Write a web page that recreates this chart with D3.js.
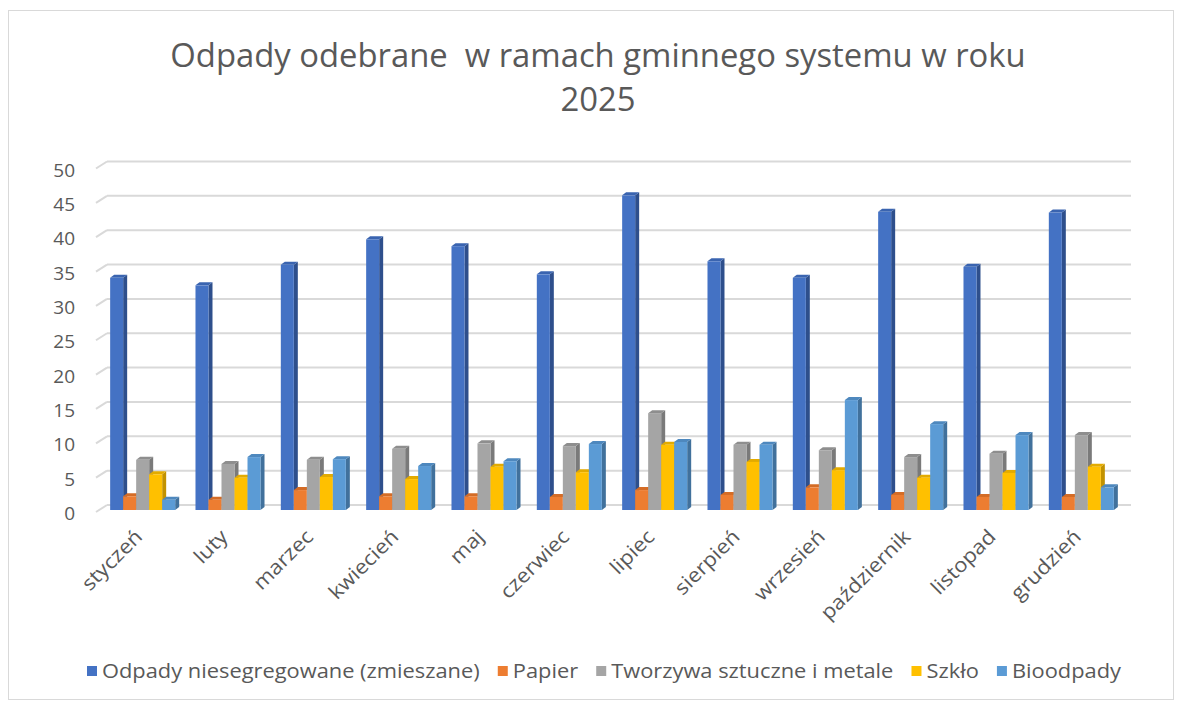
<!DOCTYPE html>
<html><head><meta charset="utf-8">
<script src="https://cdn.jsdelivr.net/npm/d3@7"></script>
<style>body{margin:0;background:#fff}svg{display:block}text{font-family:"Open Sans",sans-serif;fill:#595959}</style>
</head><body><svg id="c" width="1182" height="704"></svg>
<script>
const months = ["styczeń","luty","marzec","kwiecień","maj","czerwiec","lipiec","sierpień","wrzesień","październik","listopad","grudzień"];
const seriesNames = ["Odpady niesegregowane (zmieszane)","Papier","Tworzywa sztuczne i metale","Szkło","Bioodpady"];
const mixed   = [33.8,32.7,35.7,39.4,38.4,34.3,45.8,36.2,33.8,43.4,35.4,43.3];
const paper   = [2.0,1.5,2.9,2.0,2.0,1.9,2.9,2.2,3.3,2.2,1.9,1.9];
const plastic = [7.3,6.7,7.3,8.9,9.7,9.3,14.1,9.5,8.7,7.7,8.2,10.9];
const glass   = [5.2,4.7,4.8,4.5,6.3,5.5,9.5,7.0,5.8,4.7,5.4,6.3];
const bio     = [1.5,7.7,7.4,6.4,7.1,9.6,9.9,9.5,16.0,12.5,10.9,3.3];
const yTicks  = [0,5,10,15,20,25,30,35,40,45,50];
const titleLines = ["Odpady odebrane  w ramach gminnego systemu w roku","2025"];

const seriesData = [mixed,paper,plastic,glass,bio];
const colors = [
  {front:"#4472C4", top:"#3A64B0", side:"#2E4F8C"},
  {front:"#ED7D31", top:"#D46C26", side:"#B35A1E"},
  {front:"#A5A5A5", top:"#8E8E8E", side:"#7A7A7A"},
  {front:"#FFC000", top:"#E3AB00", side:"#C29200"},
  {front:"#5B9BD5", top:"#4E88BE", side:"#41719C"}
];

const svg = d3.select("#c");
svg.append("rect").attr("x",8.5).attr("y",10.5).attr("width",1165).attr("height",689)
  .attr("fill","#fff").attr("stroke","#D9D9D9");

function stretch(t, f){
  const L = t.node().getComputedTextLength();
  t.attr("textLength", L*f).attr("lengthAdjust","spacingAndGlyphs");
  return L*f;
}

// title
titleLines.forEach((s,i)=>{
  const t = svg.append("text").attr("x",598).attr("y",67+i*44).attr("text-anchor","middle")
    .style("font-size","32px").style("white-space","pre").text(s);
  stretch(t, 1.025);
});

const x0 = 100, x1 = 1124;
const dxW = 7, dyW = -5;   // back wall offset
const y = d3.scaleLinear().domain([0,50]).range([510,166.5]);
const xBand = d3.scaleBand().domain(months).range([x0,x1]).paddingInner(0.238).paddingOuter(0.119);
const xSer = d3.scaleBand().domain(d3.range(seriesNames.length)).range([0,xBand.bandwidth()]);

// gridlines
const grid = svg.append("g");
yTicks.forEach(v=>{
  const yy = y(v);
  grid.append("line").attr("x1",x0+dxW).attr("x2",x1+dxW).attr("y1",yy+dyW).attr("y2",yy+dyW)
    .attr("stroke","#D9D9D9").attr("stroke-width",2);
  grid.append("line").attr("x1",x0-4).attr("y1",yy+2).attr("x2",x0+dxW).attr("y2",yy+dyW)
    .attr("stroke","#D9D9D9").attr("stroke-width",2);
  svg.append("text").attr("x",75).attr("y",yy+10).attr("text-anchor","end")
    .style("font-size","19px").text(v);
});

// bars
const d = 4, dd = 3;
const bars = svg.append("g");
months.forEach((m,i)=>{
  seriesData.forEach((s,k)=>{
    const v = s[i];
    const bx = xBand(m)+xSer(k), w = xSer.bandwidth();
    const top = y(v), base = y(0);
    const c = colors[k];
    const g = bars.append("g");
    g.append("polygon").attr("points",[[bx+w,top],[bx+w+d,top-dd],[bx+w+d,base-dd],[bx+w,base]].join(" ")).attr("fill",c.side);
    g.append("polygon").attr("points",[[bx,top],[bx+d,top-dd],[bx+w+d,top-dd],[bx+w,top]].join(" ")).attr("fill",c.top);
    g.append("rect").attr("x",bx).attr("y",top).attr("width",w).attr("height",base-top).attr("fill",c.front);
  });
});

// x labels
months.forEach(m=>{
  const cx = xBand(m)+xBand.bandwidth()/2;
  const t = svg.append("text").attr("transform",`translate(${cx+1},${538}) rotate(-45)`)
    .attr("text-anchor","end").style("font-size","20px").text(m);
  stretch(t, 1.1);
});

// legend
const leg = svg.append("g");
const lStart = 87, lEnd = 1121, sq = 10, sqGap = 5;
const items = seriesNames.map((n,k)=>{
  const g = leg.append("g");
  g.append("rect").attr("width",sq).attr("height",sq).attr("y",666).attr("fill",colors[k].front);
  const t = g.append("text").attr("x",sq+sqGap).attr("y",678).style("font-size","19.5px").text(n);
  const L = stretch(t, 1.12);
  return {g, w: sq+sqGap+L};
});
const totalW = d3.sum(items, d=>d.w);
const gap = (lEnd-lStart-totalW)/(items.length-1);
let lx = lStart;
items.forEach(it=>{ it.g.attr("transform",`translate(${lx},0)`); lx += it.w + gap; });
</script></body></html>
